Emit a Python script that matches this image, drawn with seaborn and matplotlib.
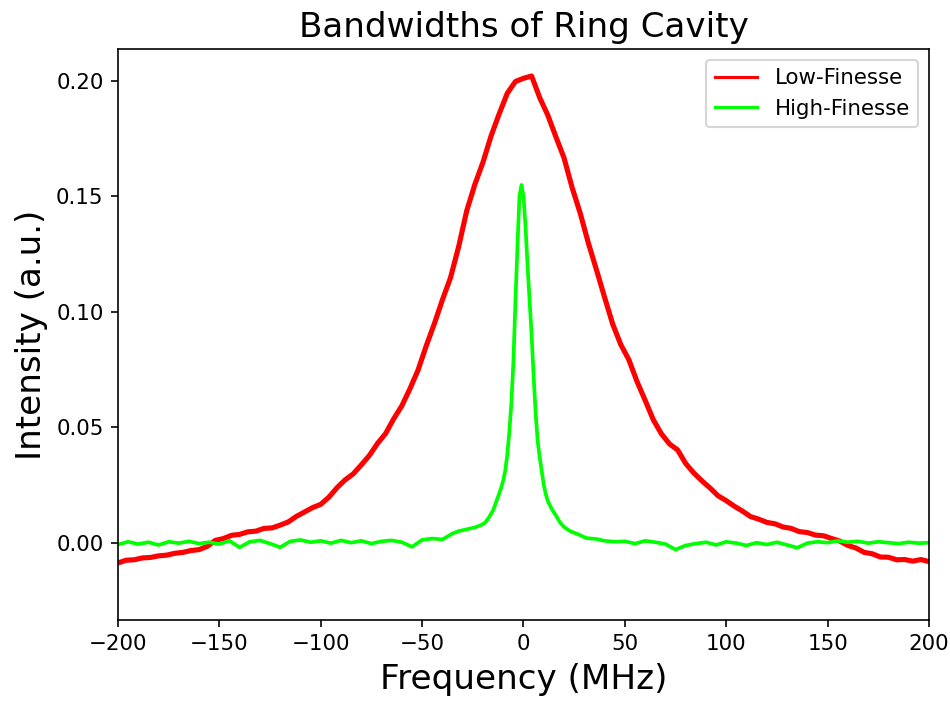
import matplotlib
matplotlib.use("Agg")
import matplotlib.pyplot as plt
import seaborn as sns
import numpy as np

# ---------------- data ----------------
low_freq = [
    -200, -196, -192, -188, -184, -180, -176, -172, -168, -164,
    -160, -156, -152, -148, -144, -140, -136, -132, -128, -124,
    -120, -116, -112, -108, -104, -100, -96, -92, -88, -84,
    -80, -76, -72, -68, -64, -60, -56, -52, -48, -44,
    -40, -36, -32, -28, -24, -20, -16, -12, -8, -4,
    0, 4, 8, 12, 16, 20, 24, 28, 32, 36,
    40, 44, 48, 52, 56, 60, 64, 68, 72, 76,
    80, 84, 88, 92, 96, 100, 104, 108, 112, 116,
    120, 124, 128, 132, 136, 140, 144, 148, 152, 156,
    160, 164, 168, 172, 176, 180, 184, 188, 192, 196, 200,
]
low_intensity = [
    -0.0088, -0.0076, -0.0074, -0.0066, -0.0064, -0.0057, -0.0054, -0.0046, -0.0042, -0.0034,
    -0.0030, -0.0016, 0.0010, 0.0018, 0.0032, 0.0036, 0.0047, 0.0050, 0.0062, 0.0064,
    0.0076, 0.0090, 0.0114, 0.0133, 0.0152, 0.0166, 0.0197, 0.0238, 0.0272, 0.0298,
    0.0337, 0.0378, 0.0430, 0.0473, 0.0537, 0.0593, 0.0667, 0.0748, 0.0852, 0.0948,
    0.1052, 0.1148, 0.1282, 0.1438, 0.1552, 0.1648, 0.1762, 0.1858, 0.1947, 0.1998,
    0.2012, 0.2022, 0.1928, 0.1852, 0.1758, 0.1667, 0.1538, 0.1427, 0.1298, 0.1182,
    0.1063, 0.0947, 0.0858, 0.0792, 0.0698, 0.0617, 0.0533, 0.0472, 0.0428, 0.0402,
    0.0343, 0.0302, 0.0268, 0.0237, 0.0203, 0.0182, 0.0158, 0.0137, 0.0113, 0.0102,
    0.0088, 0.0082, 0.0068, 0.0062, 0.0048, 0.0044, 0.0033, 0.0030, 0.0018, 0.0007,
    -0.0012, -0.0023, -0.0042, -0.0048, -0.0062, -0.0063, -0.0074, -0.0073, -0.0080, -0.0073, -0.0082,
]

high_freq = [
    -200, -195, -190, -185, -180, -175, -170, -165, -160, -155,
    -150, -145, -140, -135, -130, -125, -120, -115, -110, -105,
    -100, -95, -90, -85, -80, -75, -70, -65, -60, -55,
    -50, -45, -40, -35, -32, -28, -24, -21, -19, -17,
    -15, -13, -11, -10, -9, -8, -7, -6, -5, -4,
    -3, -2, -1, 0, 1, 2, 3, 4, 5, 6,
    7, 8, 9, 10, 11, 12, 14, 16, 18, 20,
    23, 27, 31, 36, 40, 45, 50, 55, 60, 65,
    70, 75, 80, 85, 90, 95, 100, 105, 110, 115,
    120, 125, 130, 135, 140, 145, 150, 155, 160, 165,
    170, 175, 180, 185, 190, 195, 200,
]
high_intensity = [
    -0.0008, 0.0004, -0.0006, 0.0002, -0.0010, 0.0004, -0.0002, 0.0006, -0.0004, 0.0002,
    -0.0006, 0.0008, -0.0020, 0.0004, 0.0010, -0.0004, -0.0020, 0.0006, 0.0012, 0.0002,
    0.0008, -0.0002, 0.0010, 0.0000, 0.0008, -0.0004, 0.0006, 0.0010, 0.0002, -0.0018,
    0.0012, 0.0018, 0.0014, 0.0040, 0.0050, 0.0058, 0.0066, 0.0076, 0.0086, 0.0110,
    0.0140, 0.0188, 0.0238, 0.0270, 0.0312, 0.0380, 0.0480, 0.0600, 0.0780, 0.1040,
    0.1280, 0.1500, 0.1550, 0.1500, 0.1370, 0.1200, 0.1050, 0.0900, 0.0720, 0.0560,
    0.0440, 0.0370, 0.0310, 0.0250, 0.0210, 0.0180, 0.0145, 0.0118, 0.0088, 0.0068,
    0.0050, 0.0036, 0.0020, 0.0016, 0.0008, 0.0004, 0.0006, -0.0004, 0.0008, 0.0002,
    -0.0006, -0.0030, -0.0012, -0.0004, 0.0002, -0.0010, 0.0004, -0.0002, -0.0012, 0.0000,
    -0.0008, 0.0002, -0.0010, -0.0022, -0.0002, 0.0004, 0.0000, 0.0008, 0.0002, 0.0006,
    -0.0002, 0.0004, 0.0000, -0.0004, 0.0002, -0.0002, 0.0000,
]

series_labels = ["Low-Finesse", "High-Finesse"]
x_ticks = [-200, -150, -100, -50, 0, 50, 100, 150, 200]
y_ticks = [0.00, 0.05, 0.10, 0.15, 0.20]

# ---------------- plot ----------------
fig = plt.figure(figsize=(950 / 148, 704 / 148), dpi=148)
ax = fig.add_axes([0.1242, 0.1193, 0.9779 - 0.1242, 0.9304 - 0.1193])

sns.lineplot(x=low_freq, y=low_intensity, ax=ax, color="#ff0000",
             linewidth=2.5, label=series_labels[0], estimator=None, sort=False)
sns.lineplot(x=high_freq, y=high_intensity, ax=ax, color="#00ff00",
             linewidth=1.8, label=series_labels[1], estimator=None, sort=False)

ax.set_xlim(-200, 200)
ax.set_ylim(-0.0335, 0.2139)
ax.set_xticks(x_ticks)
ax.set_yticks(y_ticks)
ax.set_yticklabels([f"{v:.2f}" for v in y_ticks])
ax.tick_params(labelsize=10.4)

ax.set_title("Bandwidths of Ring Cavity", fontsize=16.6)
ax.set_xlabel("Frequency (MHz)", fontsize=16.6)
ax.set_ylabel("Intensity (a.u.)", fontsize=16.6)

leg = ax.legend(loc="upper right", fontsize=10.4)
for line in leg.get_lines():
    line.set_linewidth(1.5)

fig.savefig("out.png", dpi=148)
